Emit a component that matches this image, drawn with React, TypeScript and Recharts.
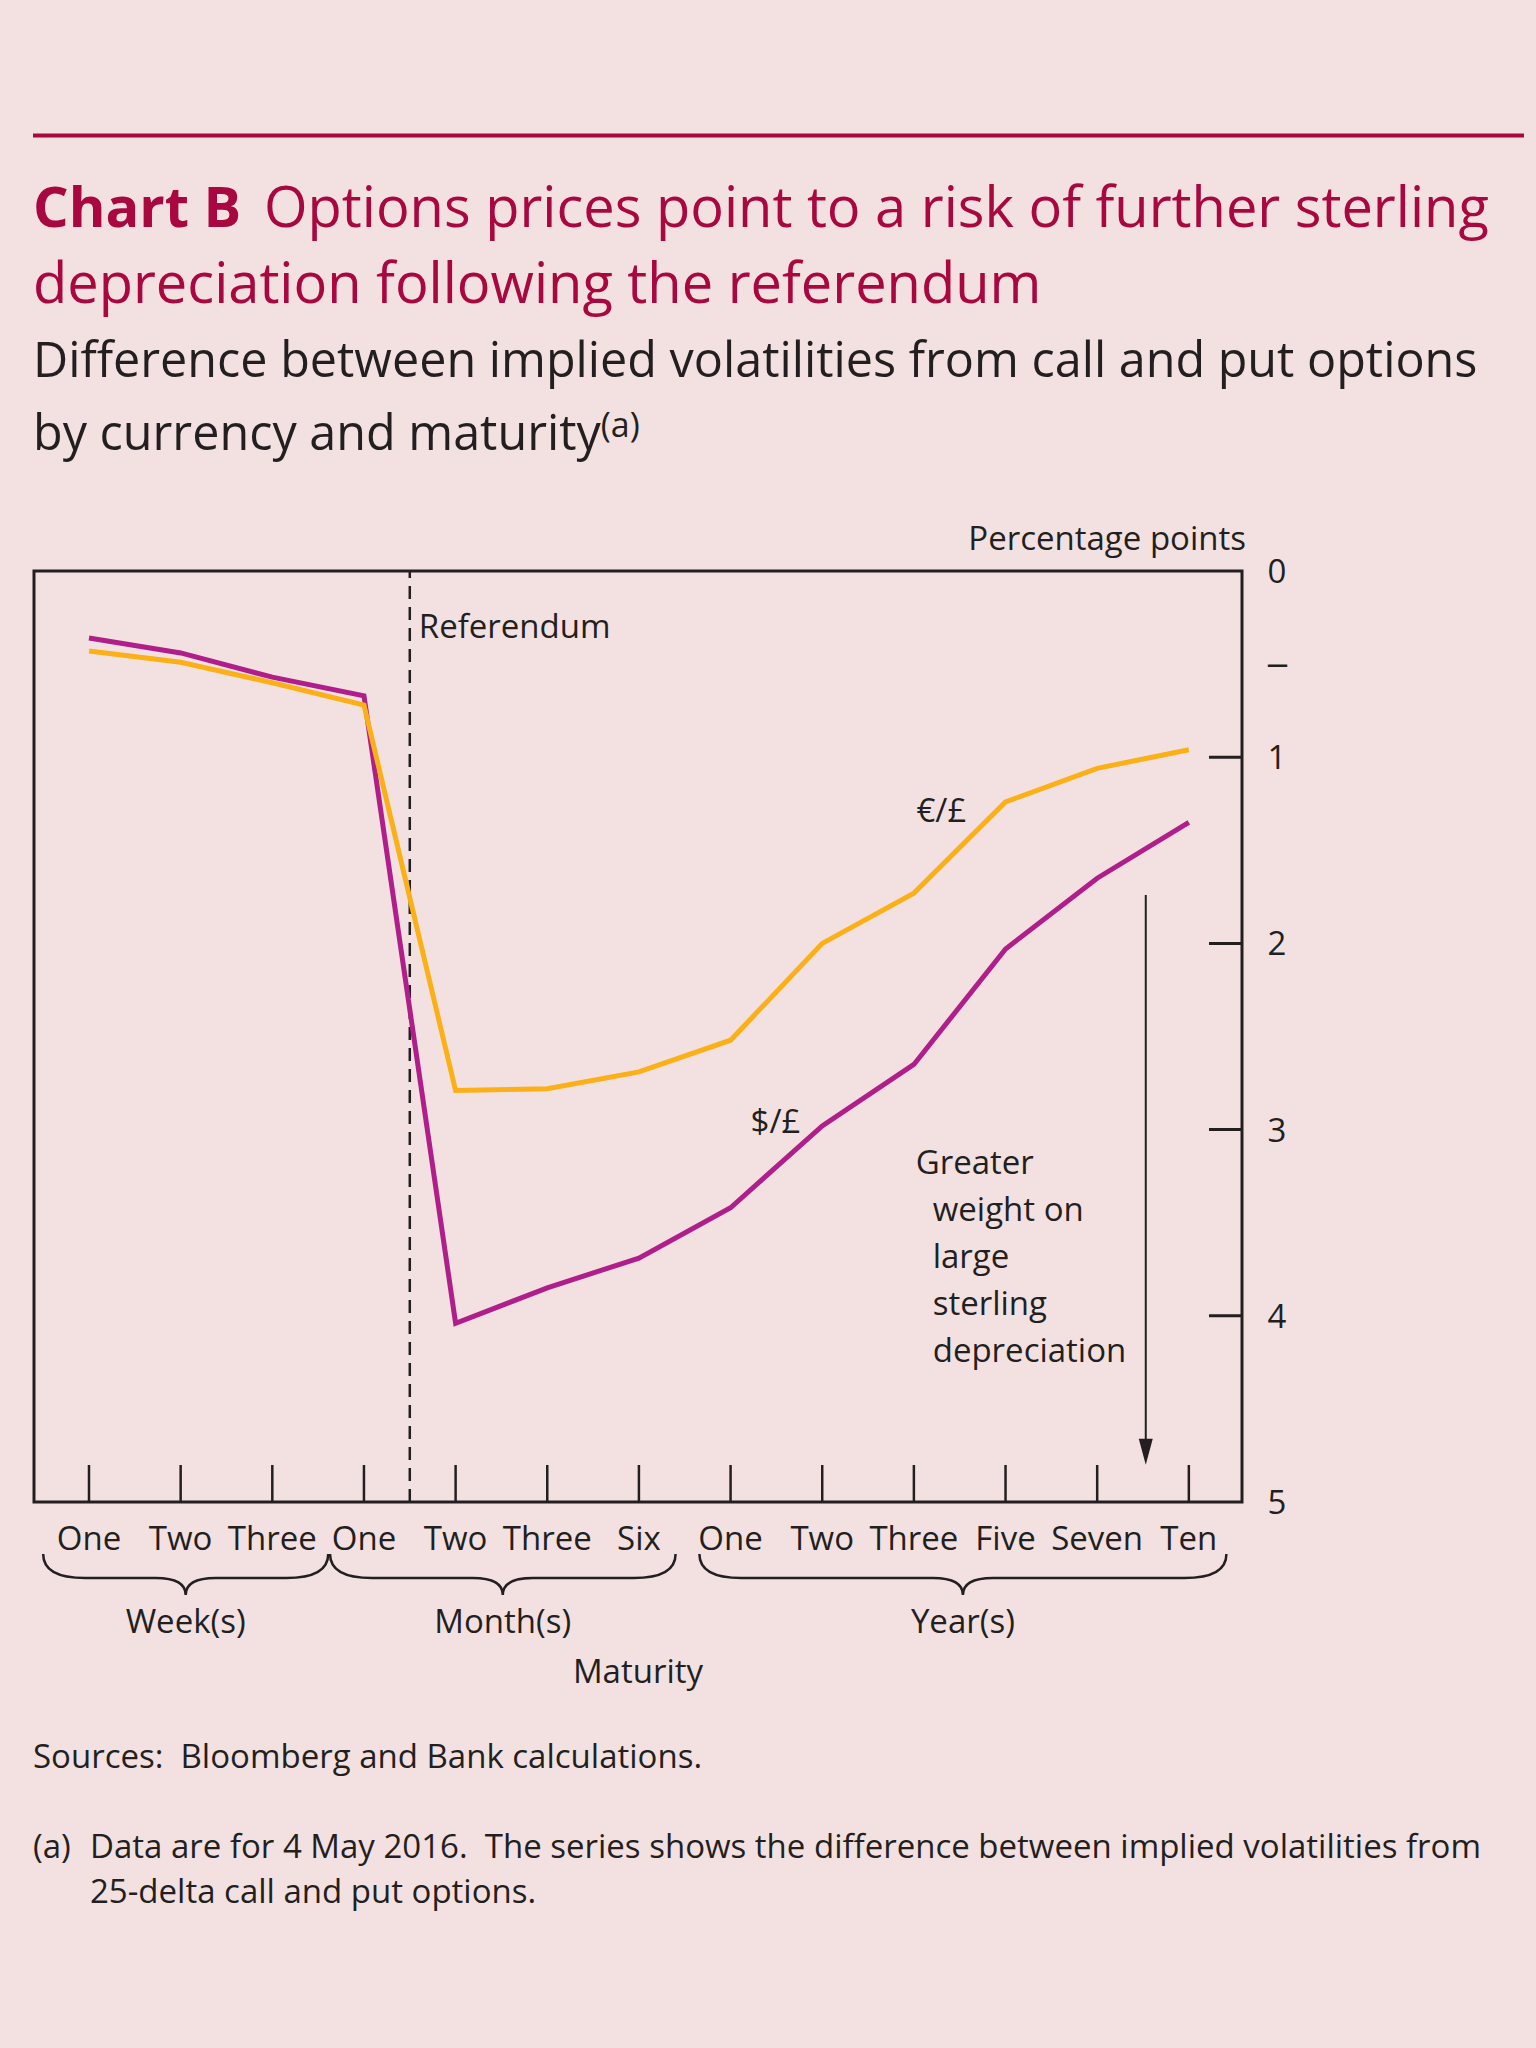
import { LineChart, Line, XAxis, YAxis, ReferenceLine, ReferenceArea, ReferenceDot } from 'recharts'

const maturities = ['One', 'Two', 'Three', 'One', 'Two', 'Three', 'Six', 'One', 'Two', 'Three', 'Five', 'Seven', 'Ten']
// call minus put implied volatility, percentage points
const dollarSterling = [-0.36, -0.44, -0.57, -0.67, -4.04, -3.85, -3.69, -3.42, -2.98, -2.65, -2.03, -1.65, -1.35]
const euroSterling = [-0.43, -0.49, -0.6, -0.72, -2.79, -2.78, -2.69, -2.52, -2.0, -1.73, -1.24, -1.06, -0.96]
const yTicks = [0, -0.5, -1, -2, -3, -4, -5]
const innerTicks = [-1, -2, -3, -4]
const groupNames = ['Week(s)', 'Month(s)', 'Year(s)']

const data = maturities.map((m, i) => ({ i, m, usd: dollarSterling[i], eur: euroSterling[i] }))

const FONT = '"Open Sans", sans-serif'
const INK = '#231f20'
const CRIMSON = '#a8083f'
const MAGENTA = '#b01e8a'
const ORANGE = '#fbb017'
const BG = '#f3e1e2'
const FS = 33

// brace extents in category units (layout only)
const BRACES = [[-0.5, 2.61], [2.63, 6.4], [6.66, 12.41]]

const XTick = ({ x, y, payload }: any) => (
  <g>
    <line x1={x} x2={x} y1={y - 37} y2={y} stroke={INK} strokeWidth={2.5} />
    <text x={x} y={y + 48} textAnchor="middle" fontSize={FS} fontFamily={FONT} fill={INK}>
      {maturities[payload.value]}
    </text>
  </g>
)

const RightTick = ({ x, y, payload }: any) => {
  const v = payload.value
  const minus = v === -0.5
  return (
    <g>
      {innerTicks.includes(v) && <line x1={x - 33} x2={x} y1={y} y2={y} stroke={INK} strokeWidth={3} />}
      {minus ? (
        <text x={x + 24} y={y + 11} fontSize={FS} fontFamily={FONT} fill={INK} textLength={23} lengthAdjust="spacingAndGlyphs">
          –
        </text>
      ) : (
        <text x={x + 35} y={y + 12} textAnchor="middle" fontSize={FS} fontFamily={FONT} fill={INK}>
          {String(Math.abs(v))}
        </text>
      )}
    </g>
  )
}

const LeftTick = ({ x, y }: any) => <line x1={x} x2={x + 37} y1={y} y2={y} stroke={INK} strokeWidth={3} />

const brace = (name: string) => ({ x, y, width, height }: any) => {
  const b = y + height
  const top = b + 52
  const mid = b + 76
  const tip = b + 93
  const x2 = x + width
  const cx = x + width / 2
  const r = 42
  const d = `M${x},${top} Q${x},${mid} ${x + r},${mid} L${cx - 30},${mid} Q${cx},${mid} ${cx},${tip} Q${cx},${mid} ${cx + 30},${mid} L${x2 - r},${mid} Q${x2},${mid} ${x2},${top}`
  return (
    <g>
      <path d={d} fill="none" stroke={INK} strokeWidth={2.5} />
      <text x={cx} y={b + 131} textAnchor="middle" fontSize={FS} fontFamily={FONT} fill={INK}>
        {name}
      </text>
    </g>
  )
}

const arrow = ({ x1, y1, x2, y2 }: any) => (
  <g>
    <line x1={x1} y1={y1} x2={x2} y2={y2 - 20} stroke={INK} strokeWidth={2} />
    <polygon points={`${x2 - 7},${y2 - 26} ${x2 + 7},${y2 - 26} ${x2},${y2}`} fill={INK} />
  </g>
)

const textAt = (lines: string[], indent = 0, dx = 0, dy = 0) => ({ viewBox }: any) => (
  <text x={viewBox.x + dx} y={viewBox.y + dy} fontSize={FS} fontFamily={FONT} fill={INK}>
    {lines.map((l, k) => (
      <tspan key={k} x={viewBox.x + dx + (k > 0 ? indent : 0)} dy={k === 0 ? 0 : 47}>
        {l}
      </tspan>
    ))}
  </text>
)

const centredAt = (s: string) => ({ viewBox }: any) => (
  <text x={viewBox.x} y={viewBox.y} textAnchor="middle" fontSize={FS} fontFamily={FONT} fill={INK}>
    {s}
  </text>
)

export default function App() {
  return (
    <div style={{ position: 'absolute', left: 0, top: 0, width: 1536, height: 2048, background: BG, fontFamily: FONT }}>
      <svg width={1536} height={2048} style={{ position: 'absolute', left: 0, top: 0 }}>
        <line x1={33} x2={1524} y1={135.5} y2={135.5} stroke={CRIMSON} strokeWidth={4} />
        <text x={33} y={227} fontSize={56} fill={CRIMSON}>
          <tspan fontWeight={700}>Chart B</tspan>
          <tspan x={264}>Options prices point to a risk of further sterling</tspan>
        </text>
        <text x={33} y={303} fontSize={56} fill={CRIMSON}>depreciation following the referendum</text>
        <text x={33} y={377} fontSize={48.5} fill={INK}>Difference between implied volatilities from call and put options</text>
        <text x={33} y={450} fontSize={48.5} fill={INK}>
          by currency and maturity
          <tspan fontSize={34} dy={-13}>(a)</tspan>
        </text>
        <text x={1246} y={550} textAnchor="end" fontSize={FS} fill={INK}>Percentage points</text>
        <text x={638} y={1683} textAnchor="middle" fontSize={FS} fill={INK}>Maturity</text>
        <text x={33} y={1768} fontSize={33} fill={INK} xmlSpace="preserve" style={{ whiteSpace: 'pre' }}>
          Sources:  Bloomberg and Bank calculations.
        </text>
        <text x={33} y={1858} fontSize={33} fill={INK}>(a)</text>
        <text x={90} y={1858} fontSize={33} fill={INK} xmlSpace="preserve" style={{ whiteSpace: 'pre' }}>
          Data are for 4 May 2016.  The series shows the difference between implied volatilities from
        </text>
        <text x={90} y={1903} fontSize={33} fill={INK}>25-delta call and put options.</text>
      </svg>
      <div style={{ position: 'absolute', left: 0, top: 0 }}>
        <LineChart width={1536} height={1800} data={data} margin={{ top: 571, right: 0, left: 0, bottom: 0 }}>
          <XAxis
            dataKey="i"
            type="number"
            domain={[-0.6, 12.58]}
            ticks={maturities.map((_, i) => i)}
            interval={0}
            height={298}
            tickSize={0}
            tickMargin={0}
            tickLine={false}
            axisLine={false}
            tick={<XTick />}
          />
          <YAxis
            orientation="right"
            domain={[-5, 0]}
            ticks={yTicks}
            interval={0}
            width={294}
            tickSize={0}
            tickMargin={0}
            tickLine={false}
            axisLine={false}
            tick={<RightTick />}
          />
          <YAxis
            yAxisId="l"
            orientation="left"
            domain={[-5, 0]}
            ticks={innerTicks}
            interval={0}
            width={34}
            tickSize={0}
            tickMargin={0}
            tickLine={false}
            axisLine={false}
            tick={<LeftTick />}
          />
          <ReferenceArea x1={-0.6} x2={12.58} y1={-5} y2={0} fill="none" stroke={INK} strokeWidth={3} />
          {BRACES.map(([a, b], k) => (
            <ReferenceArea key={k} x1={a} x2={b} y1={-5} y2={0} shape={brace(groupNames[k])} />
          ))}
          <ReferenceLine
            x={3.5}
            stroke={INK}
            strokeWidth={2.5}
            strokeDasharray="13 8"
            label={textAt(['Referendum'], 0, 9, 67)}
          />
          <ReferenceLine
            segment={[{ x: 11.53, y: -1.74 }, { x: 11.53, y: -4.8 }]}
            shape={arrow}
          />
          <ReferenceDot x={9.3} y={-1.35} r={0} label={centredAt('€/£')} />
          <ReferenceDot x={7.49} y={-3.02} r={0} label={centredAt('$/£')} />
          <ReferenceDot
            x={9.02}
            y={-3.24}
            r={0}
            label={textAt(['Greater', 'weight on', 'large', 'sterling', 'depreciation'], 17)}
          />
          <Line dataKey="usd" stroke={MAGENTA} strokeWidth={5} dot={false} isAnimationActive={false} />
          <Line dataKey="eur" stroke={ORANGE} strokeWidth={5} dot={false} isAnimationActive={false} />
        </LineChart>
      </div>
    </div>
  )
}
